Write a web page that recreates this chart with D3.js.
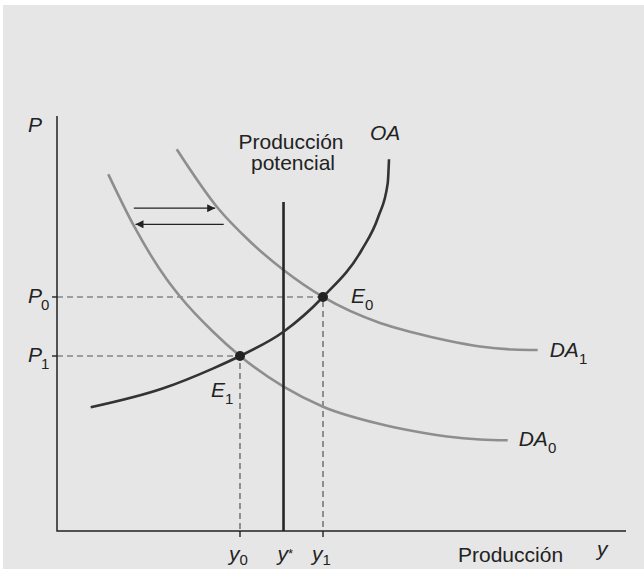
<!DOCTYPE html>
<html>
<head>
<meta charset="utf-8">
<script src="https://cdn.jsdelivr.net/npm/d3@7"></script>
<style>
  html, body { margin: 0; padding: 0; background: #ffffff; }
  svg { display: block; }
  text { font-family: "Liberation Sans", Arial, Helvetica, sans-serif; fill: #222; }
  .it { font-style: italic; }
</style>
</head>
<body>
<svg id="chart" width="644" height="569"></svg>
<script>
// Aggregate supply (OA) and two aggregate demand curves (DA0, DA1), as [output, price] pairs
const oaCurve = [[5.92,29.81],[18.68,34.39],[27.47,39.20],[32.16,42.17],[39.81,48.02],
                 [46.75,56.39],[53.55,67.71],[56.47,75.73],[58.12,83.78],[58.35,89.57]];
const da0Curve = [[9.02,85.95],[13.59,73.33],[19.28,60.65],[21.62,56.51],[27.47,47.95],
                  [32.16,42.17],[39.81,34.77],[46.75,29.95],[56.77,25.78],[62.57,24.10],
                  [68.54,22.77],[74.34,22.05],[79.21,21.86]];
const da1Curve = [[21.04,91.98],[28.30,77.76],[33.92,69.76],[39.81,62.89],[46.75,56.39],
                  [56.77,50.12],[62.57,47.83],[68.54,45.90],[74.34,44.46],[80.14,43.73],
                  [84.48,43.61]];

// Potential output and the two equilibria
const potentialOutput = 39.81;
const potentialTop = 79.3;
const equilibria = [
  { sub: "0", y: 46.75, p: 56.39, ySub: "1", pSub: "0" },
  { sub: "1", y: 32.16, p: 42.17, ySub: "0", pSub: "1" }
];

// Shift arrows between the demand curves: [from, to, price level]
const shiftArrows = [[13.5, 27.8, 77.8], [29.3, 13.8, 73.9]];

const svg = d3.select("#chart");
const W = 644, H = 569;

const x = d3.scaleLinear().domain([0, 100]).range([57, 626]);
const y = d3.scaleLinear().domain([0, 100]).range([531, 116]);

// panel background
svg.append("rect").attr("x", 3).attr("y", 5).attr("width", W - 3).attr("height", H - 5)
  .attr("fill", "#e6e6e6");

const defs = svg.append("defs");
defs.append("marker").attr("id", "head").attr("viewBox", "0 0 10 10")
  .attr("refX", 10).attr("refY", 5).attr("markerWidth", 10).attr("markerHeight", 8)
  .attr("markerUnits", "userSpaceOnUse").attr("orient", "auto")
  .append("path").attr("d", "M0,0 L10,5 L0,10 Z").attr("fill", "#222");

const line = d3.line().x(d => x(d[0])).y(d => y(d[1])).curve(d3.curveMonotoneX);

// dashed guides from each equilibrium to both axes
equilibria.forEach(e => {
  svg.append("path")
    .attr("d", `M${x(0)},${y(e.p)} H${x(e.y)} V${y(0)}`)
    .attr("fill", "none").attr("stroke", "#555").attr("stroke-width", 1.2)
    .attr("stroke-dasharray", "6,4");
  // ticks on the axes
  svg.append("line").attr("x1", x(0) - 5).attr("x2", x(0)).attr("y1", y(e.p)).attr("y2", y(e.p))
    .attr("stroke", "#222").attr("stroke-width", 1.4);
  svg.append("line").attr("x1", x(e.y)).attr("x2", x(e.y)).attr("y1", y(0)).attr("y2", y(0) + 6)
    .attr("stroke", "#222").attr("stroke-width", 1.4);
});

// demand curves
[da0Curve, da1Curve].forEach(c => {
  svg.append("path").attr("d", line(c)).attr("fill", "none")
    .attr("stroke", "#8e8e8e").attr("stroke-width", 2.6);
});

// potential output
svg.append("line").attr("x1", x(potentialOutput)).attr("x2", x(potentialOutput))
  .attr("y1", y(potentialTop)).attr("y2", y(0))
  .attr("stroke", "#262626").attr("stroke-width", 2.6);

// supply curve
svg.append("path").attr("d", line(oaCurve)).attr("fill", "none")
  .attr("stroke", "#333").attr("stroke-width", 2.6);

// axes
svg.append("path").attr("d", `M${x(0)},${y(100)} V${y(0)} H${x(100)}`)
  .attr("fill", "none").attr("stroke", "#222").attr("stroke-width", 1.5);

// shift arrows
shiftArrows.forEach(a => {
  svg.append("line").attr("x1", x(a[0])).attr("x2", x(a[1])).attr("y1", y(a[2])).attr("y2", y(a[2]))
    .attr("stroke", "#222").attr("stroke-width", 1.3).attr("marker-end", "url(#head)");
});

// equilibrium points
svg.selectAll("circle.eq").data(equilibria).join("circle").attr("class", "eq")
  .attr("cx", d => x(d.y)).attr("cy", d => y(d.p)).attr("r", 5).attr("fill", "#222");

// label helper: main text plus lowered subscript
function label(px, py, main, sub, opts = {}) {
  const t = svg.append("text").attr("x", px).attr("y", py)
    .attr("font-size", opts.size || 21)
    .attr("text-anchor", opts.anchor || "start");
  if (opts.italic !== false) t.attr("class", "it");
  t.append("tspan").text(main);
  if (sub) {
    t.append("tspan").attr("dx", opts.subDx || 0).attr("dy", opts.subDy || 7)
      .attr("font-size", opts.subSize || 15).attr("font-style", "normal").text(sub);
  }
  return t;
}

// axis titles
label(28, 132, "P");
label(597, 556, "y");
svg.append("text").attr("x", 458).attr("y", 562).attr("font-size", 21).text("Producción");

// price levels on the vertical axis
equilibria.forEach(e => {
  label(x(0) - 29, y(e.p) + 6, "P", e.pSub, { subDx: -1 });
});

// output levels on the horizontal axis
equilibria.forEach(e => {
  label(x(e.y) - 11, 561, "y", e.ySub, { subDy: 4 });
});
label(x(potentialOutput) - 6, 561, "y", "*", { subDy: -3, subSize: 13 });

// curve names
label(370, 140, "OA", null);
label(x(84.48) + 12, y(43.61) + 7, "DA", "1");
label(x(79.21) + 11, y(21.86) + 6, "DA", "0");

// equilibrium names
label(x(equilibria[0].y) + 28, y(equilibria[0].p) + 6, "E", "0");
label(x(equilibria[1].y) - 29, y(equilibria[1].p) + 41, "E", "1");

// potential output caption
const cap = svg.append("text").attr("font-size", 21).attr("text-anchor", "middle");
cap.append("tspan").attr("x", 291).attr("y", 149).text("Producción");
cap.append("tspan").attr("x", 293).attr("y", 170).text("potencial");
</script>
</body>
</html>
